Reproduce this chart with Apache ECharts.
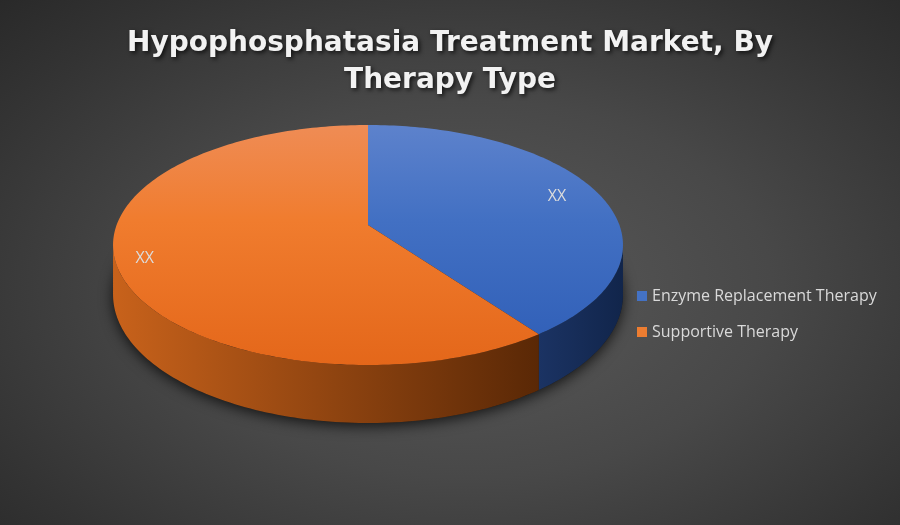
<!DOCTYPE html>
<html>
<head>
<meta charset="utf-8">
<script src="https://cdn.jsdelivr.net/npm/echarts@6/dist/echarts.min.js"></script>
<style>
html,body{margin:0;padding:0;}
#main{width:900px;height:525px;background:radial-gradient(ellipse 75% 80% at 52% 55%, #5a5a5a 0%, #484848 45%, #333333 80%, #282828 100%);}
</style>
</head>
<body>
<div id="main"></div>
<script>
// ---- data ----
const categories = ['Enzyme Replacement Therapy', 'Supportive Therapy'];
const values = [40, 60];
const labels = ['XX', 'XX'];
const titleText = 'Hypophosphatasia Treatment Market, By\nTherapy Type';

// ---- styles ----
const topColors = [['#5d82cc', '#4270c3', '#2e5db6'], ['#ef8c55', '#f07c2e', '#e4671a']];
const sideColors = [['#1b3363', '#11254b'], ['#c8621b', '#5a2806']];
const legendColors = ['#4472c4', '#ed7d31'];

// ---- 3D projection geometry ----
const G = {cx: 368, cy: 225, A: 251.4, B: 116.7, p: 0.1667, H: 48.3};
function proj(t, r, down) {
  const u = r * Math.cos(t), v = r * Math.sin(t);
  const w = 1 + G.p * v;
  return [G.cx + G.A * u / w, G.cy - G.B * v / w + (down ? G.H / w : 0)];
}
const total = values.reduce((a, b) => a + b, 0);
const cum = [];
values.reduce((acc, v, i) => { cum[i] = acc; return acc + v; }, 0);

function arcPts(a, b, down) {
  const n = Math.max(2, Math.ceil(Math.abs(b - a) / 0.02));
  const pts = [];
  for (let k = 0; k <= n; k++) pts.push(proj(a + (b - a) * k / n, 1, down));
  return pts;
}

function makeRender(i) {
  return function (params, api) {
    const val = api.value(0);
    const start = Math.PI / 2 - 2 * Math.PI * cum[i] / total;
    const end = start - 2 * Math.PI * val / total;
    const children = [];
    const lo = -Math.PI + Math.asin(G.p), hi = -Math.asin(G.p);
    for (let k = -1; k <= 1; k++) {
      const a = Math.max(end, lo + 2 * Math.PI * k);
      const b = Math.min(start, hi + 2 * Math.PI * k);
      if (a < b) {
        const pts = arcPts(b, a, false).concat(arcPts(a, b, true));
        const xs = pts.map(q => q[0]);
        children.push({
          type: 'polygon', z2: 1,
          shape: {points: pts},
          style: {
            fill: {type: 'linear', global: true, x: Math.min(...xs), y: 0, x2: Math.max(...xs), y2: 0,
              colorStops: [{offset: 0, color: sideColors[i][0]}, {offset: 1, color: sideColors[i][1]}]},
            stroke: null
          }
        });
      }
    }
    const topPts = [[G.cx, G.cy]].concat(arcPts(start, end, false));
    children.push({
      type: 'polygon', z2: 10,
      shape: {points: topPts},
      style: {
        fill: {type: 'linear', global: true, x: 0, y: 125, x2: 0, y2: 365,
          colorStops: [{offset: 0, color: topColors[i][0]}, {offset: 0.4, color: topColors[i][1]}, {offset: 1, color: topColors[i][2]}]},
        stroke: null
      }
    });
    const mid = (start + end) / 2;
    const lp = proj(mid, 0.86, false);
    children.push({
      type: 'text', z2: 20,
      x: lp[0] - 8, y: lp[1] + 1,
      style: {text: labels[i], fill: '#dcdcdc', fontSize: 16, fontFamily: 'Open Sans', align: 'center', verticalAlign: 'middle'}
    });
    return {type: 'group', children: children};
  };
}

const series = [{
  type: 'custom', name: 'base', coordinateSystem: 'none', silent: true,
  data: [[total]],
  renderItem: function () {
    return {
      type: 'polygon', z2: 0,
      shape: {points: arcPts(0, 2 * Math.PI, true)},
      style: {fill: '#1a1a1a', shadowBlur: 14, shadowColor: 'rgba(0,0,0,0.75)', shadowOffsetY: 3}
    };
  }
}];
categories.forEach((c, i) => {
  series.push({
    type: 'custom', name: c, coordinateSystem: 'none',
    itemStyle: {color: legendColors[i]},
    data: [[values[i]]],
    renderItem: makeRender(i)
  });
});

const chart = echarts.init(document.getElementById('main'), null, {renderer: 'canvas'});
chart.setOption({
  animation: false,
  title: {
    text: titleText, left: 'center', top: 20,
    textStyle: {color: '#f2f2f2', fontSize: 28, fontWeight: 'bold', fontFamily: 'DejaVu Sans', lineHeight: 37,
      textShadowColor: 'rgba(0,0,0,0.7)', textShadowBlur: 4, textShadowOffsetX: 2, textShadowOffsetY: 2}
  },
  legend: {
    data: categories, orient: 'vertical', left: 632, top: 283, itemGap: 20,
    icon: 'rect', itemWidth: 10, itemHeight: 10,
    textStyle: {color: '#d9d9d9', fontSize: 16, fontFamily: 'Open Sans'}
  },
  series: series
});
</script>
</body>
</html>
